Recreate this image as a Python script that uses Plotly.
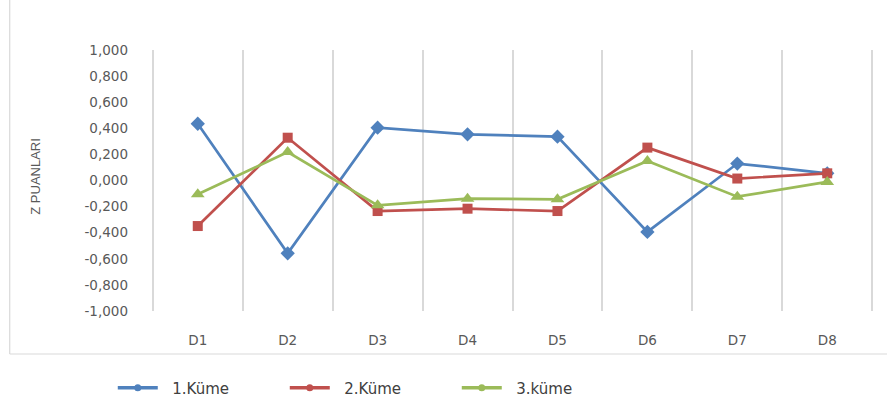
import plotly.graph_objects as go

categories = ["D1", "D2", "D3", "D4", "D5", "D6", "D7", "D8"]
kume1 = [0.435, -0.558, 0.405, 0.354, 0.336, -0.394, 0.130, 0.055]
kume2 = [-0.349, 0.328, -0.234, -0.216, -0.234, 0.252, 0.015, 0.055]
kume3 = [-0.106, 0.218, -0.190, -0.139, -0.144, 0.150, -0.124, -0.011]
series_names = ["1.Küme", "2.Küme", "3.küme"]
y_tick_vals = [1.0, 0.8, 0.6, 0.4, 0.2, 0.0, -0.2, -0.4, -0.6, -0.8, -1.0]
y_tick_labels = ["1,000", "0,800", "0,600", "0,400", "0,200", "0,000",
                 "-0,200", "-0,400", "-0,600", "-0,800", "-1,000"]
y_title = "Z PUANLARI"

colors = ["#4F81BD", "#C0504D", "#9BBB59"]
symbols = ["diamond", "square", "triangle-up"]
sizes = [11, 10, 12]
series = [kume1, kume2, kume3]

fig = go.Figure()
for vals, name, c, s, sz in zip(series, series_names, colors, symbols, sizes):
    fig.add_trace(go.Scatter(
        x=categories, y=vals, mode="lines+markers", name=name,
        line=dict(color=c, width=2.7),
        marker=dict(symbol=s, size=sz, color=c),
        showlegend=False,
    ))
# legend entries (Excel style: line with round marker)
for name, c in zip(series_names, colors):
    fig.add_trace(go.Scatter(
        x=[None], y=[None], mode="lines+markers",
        name="\u00a0\u00a0" + name,
        line=dict(color=c, width=3.5),
        marker=dict(symbol="circle", size=7, color=c),
        showlegend=True,
    ))

W, H = 887, 406
PAD = 0.02  # category units of padding so edge gridlines are drawn
cat_w = (872 - 153) / 8.0
L = 153 - PAD * cat_w
R = (W - 872) - PAD * cat_w
T, B = 50, 95
pw, ph = W - L - R, H - T - B

def px_x(x):
    return (x - L) / pw

def px_y(y):
    return (H - B - y) / ph

border = dict(color="#D9D9D9", width=1.2)
fig.add_shape(type="line", xref="paper", yref="paper",
              x0=px_x(10), x1=px_x(10), y0=px_y(0), y1=px_y(354), line=border)
fig.add_shape(type="line", xref="paper", yref="paper",
              x0=px_x(10), x1=px_x(W), y0=px_y(354), y1=px_y(354), line=border)

fig.add_annotation(text=y_title, xref="paper", yref="paper",
                   x=px_x(35), y=px_y(176), xanchor="center", yanchor="middle",
                   textangle=-90, showarrow=False,
                   font=dict(family="Liberation Sans", size=13, color="#595959"))

fig.update_layout(
    width=W, height=H,
    margin=dict(l=L, r=R, t=T, b=B, autoexpand=False),
    paper_bgcolor="white", plot_bgcolor="white",
    font=dict(family="DejaVu Sans", size=13, color="#595959"),
    xaxis=dict(
        type="category", range=[-0.5 - PAD, 7.5 + PAD], tickson="boundaries",
        showgrid=True, gridcolor="#D9D9D9", gridwidth=1.5,
        showline=False, zeroline=False, ticks="",
        ticklabelstandoff=19,
        tickfont=dict(family="DejaVu Sans", size=13.5, color="#595959"),
    ),
    yaxis=dict(
        range=[-1, 1], tickvals=y_tick_vals, ticktext=y_tick_labels,
        showgrid=False, zeroline=False, showline=False, ticks="",
        ticklabelstandoff=22,
        tickfont=dict(family="DejaVu Sans", size=13.5, color="#595959"),
    ),
    legend=dict(
        orientation="h", x=px_x(113), xanchor="left",
        y=px_y(388), yanchor="middle",
        entrywidth=117, entrywidthmode="pixels",
        font=dict(family="DejaVu Sans", size=15, color="#404040"),
        itemwidth=40, bgcolor="rgba(0,0,0,0)",
    ),
)

fig.write_html("out.html")
